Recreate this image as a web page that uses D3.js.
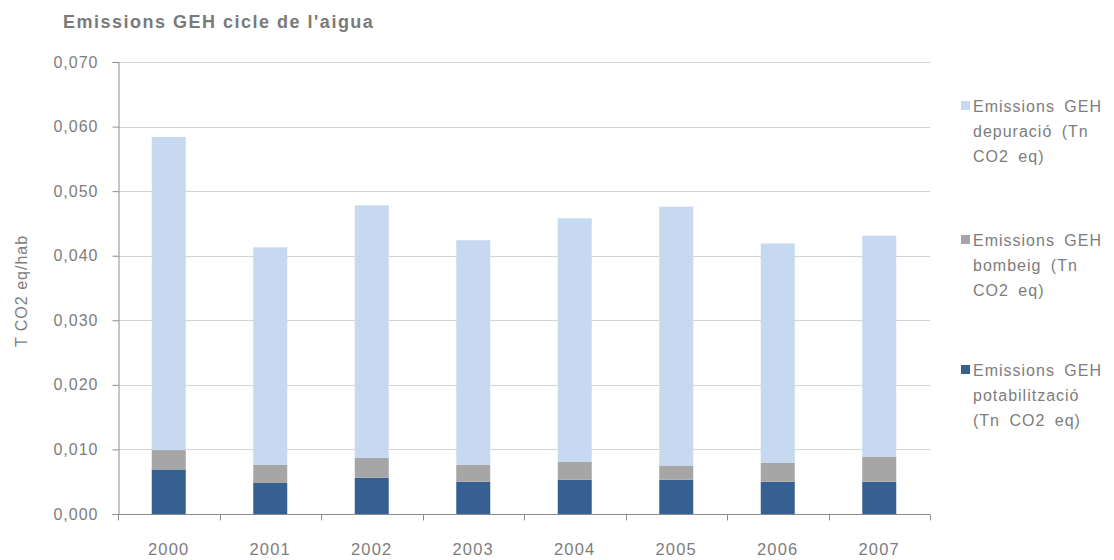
<!DOCTYPE html>
<html>
<head>
<meta charset="utf-8">
<script src="https://cdn.jsdelivr.net/npm/d3@7"></script>
<style>
  html, body { margin: 0; padding: 0; background: #fff; }
  svg { display: block; font-family: "Liberation Sans", Arial, sans-serif; }
</style>
</head>
<body>
<svg id="chart" width="1114" height="560"></svg>
<script>
// Years on the category axis
const years = ["2000", "2001", "2002", "2003", "2004", "2005", "2006", "2007"];

// Emissions per inhabitant (T CO2 eq/hab), one array per stacked component
const potabilitzacio = [0.0069, 0.0048, 0.0056, 0.0050, 0.0053, 0.0053, 0.0050, 0.0050];
const bombeig        = [0.0030, 0.0028, 0.0031, 0.0026, 0.0028, 0.0022, 0.0029, 0.0039];
const depuracio      = [0.0485, 0.0337, 0.0391, 0.0348, 0.0377, 0.0401, 0.0340, 0.0342];

const yTicks = [0, 0.01, 0.02, 0.03, 0.04, 0.05, 0.06, 0.07];

const seriesKeys = ["potabilitzacio", "bombeig", "depuracio"];
const seriesColors = { potabilitzacio: "#376092", bombeig: "#a6a6a6", depuracio: "#c6d9f1" };

// Legend entries, top to bottom, each split over three lines
const legendItems = [
  { key: "depuracio",      lines: ["Emissions GEH", "depuració (Tn", "CO2 eq)"] },
  { key: "bombeig",        lines: ["Emissions GEH", "bombeig (Tn", "CO2 eq)"] },
  { key: "potabilitzacio", lines: ["Emissions GEH", "potabilització", "(Tn CO2 eq)"] }
];

const rows = years.map((y, i) => ({
  year: y,
  potabilitzacio: potabilitzacio[i],
  bombeig: bombeig[i],
  depuracio: depuracio[i]
}));

const svg = d3.select("#chart");
const margin = { left: 118, right: 184, top: 62, bottom: 46 };
const W = 1114, H = 560;
const plotW = W - margin.left - margin.right;
const plotH = H - margin.top - margin.bottom;

const x = d3.scaleBand().domain(years).range([margin.left, margin.left + plotW]).paddingInner(0.665).paddingOuter(0.3325);
const xb = d3.scaleBand().domain(years).range([margin.left, margin.left + plotW]);
const y = d3.scaleLinear().domain([0, 0.07]).range([margin.top + plotH, margin.top]);

const textColor = "#7d7d7d";
const fontSize = 16;
const spacing = 1;
const fmt = v => d3.format(".3f")(v).replace(".", ",");

// Horizontal gridlines
svg.append("g")
  .selectAll("line")
  .data(yTicks.filter(t => t > 0))
  .join("line")
  .attr("x1", margin.left).attr("x2", margin.left + plotW)
  .attr("y1", d => Math.round(y(d)) + 0.5).attr("y2", d => Math.round(y(d)) + 0.5)
  .attr("stroke", "#d4d4d4").attr("stroke-width", 1);

// Stacked bars
const stack = d3.stack().keys(seriesKeys)(rows);
svg.append("g")
  .selectAll("g")
  .data(stack)
  .join("g")
  .attr("fill", d => seriesColors[d.key])
  .selectAll("rect")
  .data(d => d)
  .join("rect")
  .attr("x", d => x(d.data.year))
  .attr("width", x.bandwidth())
  .attr("y", d => y(d[1]))
  .attr("height", d => y(d[0]) - y(d[1]));

// Y axis
const yAxis = d3.axisLeft(y).tickValues(yTicks).tickFormat(fmt).tickSize(6).tickPadding(14);
const gy = svg.append("g").attr("transform", `translate(${margin.left + 0.5},0)`).call(yAxis);
gy.select(".domain").attr("stroke", "#8c8c8c");
gy.selectAll(".tick line").attr("stroke", "#8c8c8c");
gy.selectAll(".tick text").attr("fill", textColor).attr("font-size", fontSize)
  .attr("letter-spacing", spacing)
  .attr("font-family", "Liberation Sans, Arial, sans-serif");

// X axis with ticks between categories
const xAxisG = svg.append("g").attr("transform", `translate(0,${Math.round(y(0)) + 0.5})`);
xAxisG.append("line")
  .attr("x1", margin.left).attr("x2", margin.left + plotW)
  .attr("stroke", "#8c8c8c");
const boundaries = years.map(d => xb(d)).concat([margin.left + plotW]);
xAxisG.selectAll("line.tk")
  .data(boundaries)
  .join("line").attr("class", "tk")
  .attr("x1", d => Math.round(d) + 0.5).attr("x2", d => Math.round(d) + 0.5)
  .attr("y1", 0).attr("y2", 6)
  .attr("stroke", "#8c8c8c");
xAxisG.selectAll("text")
  .data(years)
  .join("text")
  .attr("x", d => xb(d) + xb.bandwidth() / 2)
  .attr("y", 40)
  .attr("text-anchor", "middle")
  .attr("fill", textColor).attr("font-size", 16.5).attr("letter-spacing", 1.2)
  .text(d => d);

// Title
svg.append("text")
  .attr("x", 63).attr("y", 28)
  .attr("fill", "#7a7a7a").attr("font-size", 18).attr("font-weight", "bold")
  .attr("letter-spacing", 1.5)
  .text("Emissions GEH cicle de l'aigua");

// Y axis title
svg.append("text")
  .attr("transform", "translate(27,291) rotate(-90)")
  .attr("text-anchor", "middle")
  .attr("fill", textColor).attr("font-size", fontSize).attr("letter-spacing", spacing)
  .text("T CO2 eq/hab");

// Legend
const legend = svg.append("g");
const legendTops = [106, 240, 370];
legendItems.forEach((item, i) => {
  const g = legend.append("g").attr("transform", `translate(961,${legendTops[i]})`);
  g.append("rect").attr("x", 0).attr("y", -5).attr("width", 9).attr("height", 9)
    .attr("fill", seriesColors[item.key]);
  item.lines.forEach((ln, j) => {
    g.append("text")
      .attr("x", 12).attr("y", j * 25 + 6)
      .attr("fill", textColor).attr("font-size", fontSize)
      .attr("letter-spacing", spacing).attr("word-spacing", 4)
      .text(ln);
  });
});
</script>
</body>
</html>
